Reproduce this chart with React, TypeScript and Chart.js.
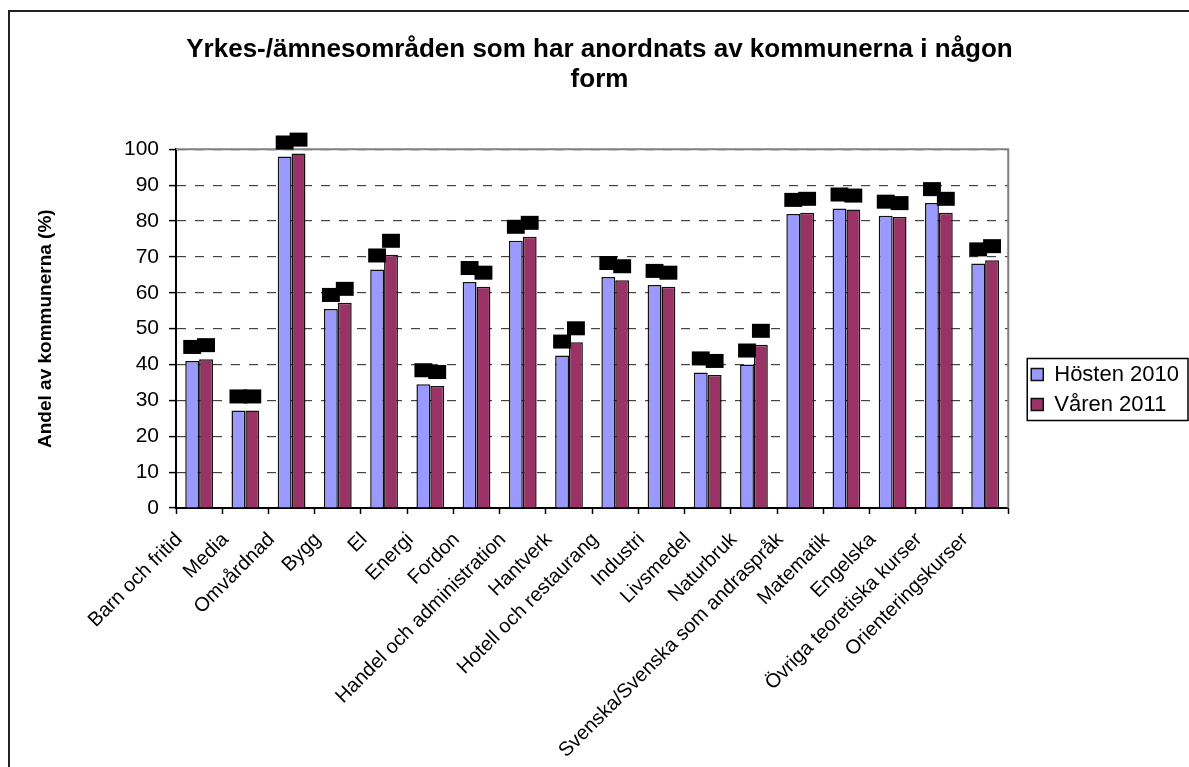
import React, { useEffect, useRef } from "react";
import { Chart, registerables } from "chart.js";

Chart.register(...registerables);

const categories = [
  "Barn och fritid",
  "Media",
  "Omvårdnad",
  "Bygg",
  "El",
  "Energi",
  "Fordon",
  "Handel och administration",
  "Hantverk",
  "Hotell och restaurang",
  "Industri",
  "Livsmedel",
  "Naturbruk",
  "Svenska/Svenska som andraspråk",
  "Matematik",
  "Engelska",
  "Övriga teoretiska kurser",
  "Orienteringskurser",
];

const hosten2010 = [41, 27.2, 98, 55.5, 66.5, 34.5, 63, 74.5, 42.5, 64.4, 62.2, 37.8, 40, 82, 83.5, 81.5, 85, 68.2];
const varen2011 = [41.5, 27.2, 98.8, 57.2, 70.6, 34, 61.7, 75.6, 46.2, 63.5, 61.7, 37.1, 45.5, 82.3, 83.2, 81.1, 82.3, 69.1];

const seriesNames = ["Hösten 2010", "Våren 2011"];
const yTicks = { min: 0, max: 100, step: 10 };
const chartTitle = ["Yrkes-/ämnesområden som har anordnats av kommunerna i någon", "form"];
const yTitle = "Andel av kommunerna (%)";

const FONT = "'Liberation Sans', Arial, sans-serif";

const decorPlugin = {
  id: "decor",
  afterDatasetsDraw(chart: any) {
    const ctx = chart.ctx;
    const area = chart.chartArea;
    ctx.save();
    ctx.strokeStyle = "#808080";
    ctx.lineWidth = 2;
    ctx.beginPath();
    ctx.moveTo(area.left, area.top);
    ctx.lineTo(area.right, area.top);
    ctx.lineTo(area.right, area.bottom);
    ctx.stroke();
    ctx.fillStyle = "#000";
    chart.data.datasets.forEach((_: any, i: number) => {
      const meta = chart.getDatasetMeta(i);
      meta.data.forEach((bar: any) => {
        const p = bar.getProps(["x", "y", "width"], true);
        ctx.fillRect(p.x - p.width / 2 - 2, p.y - 21, p.width + 4, 14);
      });
    });
    ctx.restore();
  },
  afterDraw(chart: any) {
    const lg = chart.legend;
    if (!lg || !lg.legendHitBoxes || !lg.legendHitBoxes.length) return;
    const hb = lg.legendHitBoxes;
    const first = hb[0];
    const last = hb[hb.length - 1];
    const ctx = chart.ctx;
    ctx.save();
    ctx.strokeStyle = "#000";
    ctx.lineWidth = 1.5;
    const left = first.left - 4;
    const top = first.top + first.height / 2 - 16;
    const bottom = last.top + last.height / 2 + 16;
    const right = chart.width - 1;
    ctx.strokeRect(left, top, right - left, bottom - top);
    ctx.restore();
  },
};

export default function App() {
  const ref = useRef<HTMLCanvasElement | null>(null);

  useEffect(() => {
    if (!ref.current) return;
    const chart = new Chart(ref.current, {
      type: "bar",
      data: {
        labels: categories,
        datasets: [
          {
            label: seriesNames[0],
            data: hosten2010,
            backgroundColor: "#9999FF",
            borderColor: "#111111",
            borderWidth: 1.5,
          },
          {
            label: seriesNames[1],
            data: varen2011,
            backgroundColor: "#993366",
            borderColor: "#111111",
            borderWidth: 1.5,
          },
        ],
      },
      options: {
        responsive: false,
        animation: false,
        devicePixelRatio: 1,
        layout: { padding: { left: 0, right: 0, top: 0, bottom: 0 } },
        datasets: {
          bar: { categoryPercentage: 0.6, barPercentage: 1.0 },
        },
        plugins: {
          title: {
            display: true,
            text: chartTitle,
            color: "#000",
            font: { family: FONT, size: 26, weight: "bold", lineHeight: 1.16 },
            padding: { top: 23, bottom: 54 },
          },
          legend: {
            position: "right",
            labels: {
              color: "#000",
              font: { family: FONT, size: 22 },
              boxWidth: 12,
              boxHeight: 12,
              padding: 8,
            },
          },
          tooltip: { enabled: false },
        },
        scales: {
          x: {
            grid: {
              display: true,
              drawOnChartArea: false,
              drawTicks: true,
              tickLength: 6,
              color: "#000",
              tickColor: "#000",
              tickWidth: 1.5,
            },
            border: { display: true, color: "#000", width: 2 },
            ticks: {
              color: "#000",
              font: { family: FONT, size: 20 },
              maxRotation: 45,
              minRotation: 45,
              autoSkip: false,
              labelOffset: -20,
              padding: 14,
            },
            afterFit: (s: any) => {
              s.height = 259;
            },
          },
          y: {
            min: yTicks.min,
            max: yTicks.max,
            ticks: {
              stepSize: yTicks.step,
              color: "#000",
              font: { family: FONT, size: 21 },
              padding: 10,
            },
            grid: {
              color: "#444",
              lineWidth: 1.2,
              tickLength: 7,
              tickColor: "#000",
              tickWidth: 1.5,
            },
            border: { display: true, color: "#000", width: 2, dash: [9, 9] },
            title: {
              display: true,
              text: yTitle,
              color: "#000",
              font: { family: FONT, size: 19, weight: "bold", lineHeight: 1.2 },
              padding: { top: 24, bottom: 0 },
            },
            afterFit: (s: any) => {
              s.width = 166;
            },
          },
          y2: {
            position: "right",
            display: true,
            grid: { display: false, drawTicks: false },
            border: { display: false },
            ticks: { display: false },
            afterFit: (s: any) => {
              s.width = 15;
            },
          },
        },
      } as any,
      plugins: [decorPlugin],
    });
    return () => chart.destroy();
  }, []);

  return (
    <div>
      <div
        style={{
          position: "fixed",
          left: 8,
          top: 10,
          width: 1181,
          height: 757,
          borderLeft: "2px solid #222",
          borderTop: "2px solid #222",
          boxSizing: "border-box",
          background: "#fff",
        }}
      />
      <canvas
        ref={ref}
        width={1179}
        height={755}
        style={{ position: "fixed", left: 10, top: 12, width: 1179, height: 755 }}
      />
    </div>
  );
}
